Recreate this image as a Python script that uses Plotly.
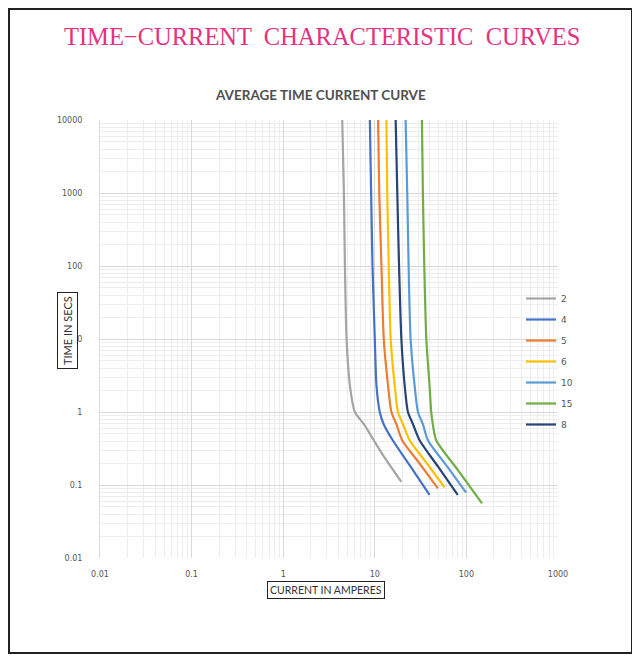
import plotly.graph_objects as go

# ---- data ----
series_names = ["2", "4", "5", "6", "10", "15", "8"]
series_colors = ["#A5A5A5", "#4472C4", "#ED7D31", "#FFC000", "#5B9BD5", "#70AD47", "#264478"]

time_2 = [10000, 1000, 100, 10, 2.3, 1.0, 0.68, 0.41, 0.244, 0.11]
amps_2 = [4.41, 4.60, 4.72, 4.92, 5.35, 6.06, 7.6, 9.75, 12.6, 19.5]

time_4 = [10000, 1000, 100, 10, 2.3, 1.0, 0.68, 0.41, 0.178, 0.073]
amps_4 = [8.83, 9.12, 9.44, 10.0, 10.43, 11.33, 12.5, 15.7, 24.6, 39.6]

time_5 = [10000, 1000, 100, 10, 2.3, 1.0, 0.68, 0.41, 0.194, 0.09]
amps_5 = [10.86, 11.19, 11.82, 12.53, 13.95, 15.19, 17.2, 19.9, 31.1, 48.8]

time_6 = [10000, 1000, 100, 10, 2.3, 1.0, 0.68, 0.41, 0.194, 0.093]
amps_6 = [13.4, 13.67, 14.2, 14.9, 16.5, 17.9, 20.3, 24.0, 37.5, 57.7]

time_10 = [10000, 1000, 100, 10, 2.3, 1.0, 0.68, 0.41, 0.178, 0.0785]
amps_10 = [21.7, 22.6, 23.4, 24.6, 27.2, 29.6, 33.5, 38.0, 61.9, 99.2]

time_15 = [10000, 1000, 100, 10, 2.3, 1.0, 0.68, 0.41, 0.16, 0.056]
amps_15 = [32.7, 33.5, 34.7, 36.5, 39.6, 41.3, 43.0, 46.8, 80.8, 148]

time_8 = [10000, 1000, 100, 10, 2.3, 1.0, 0.68, 0.41, 0.178, 0.073]
amps_8 = [16.9, 17.6, 18.4, 19.5, 21.2, 23.0, 26.1, 30.8, 49.1, 80.4]

series_times = [time_2, time_4, time_5, time_6, time_10, time_15, time_8]
series_amps = [amps_2, amps_4, amps_5, amps_6, amps_10, amps_15, amps_8]

x_tickvals = [0.01, 0.1, 1, 10, 100, 1000]
x_ticktext = ["0.01", "0.1", "1", "10", "100", "1000"]
y_tickvals = [0.01, 0.1, 1, 10, 100, 1000, 10000]
y_ticktext = ["0.01", "0.1", "1", "10", "100", "1000", "10000"]

fig = go.Figure()
for name, color, tt, aa in zip(series_names, series_colors, series_times, series_amps):
    fig.add_trace(go.Scatter(
        x=aa, y=tt, name=name, legendgroup=name, mode="lines",
        line=dict(color=color, width=2.2, shape="spline", smoothing=0.7),
    ))

# page offset of the browser body (default 8px margin)
OFF = 8
W, H = 640 - OFF, 657 - OFF
PL, PR, PT, PB = 100, 558, 120, 558          # plot area in screen px
L, R, T, B = PL - OFF, W - (PR - OFF), PT - OFF, H - (PB - OFF)
PW, PH = PR - PL, PB - PT


def px(sx):
    return (sx - PL) / PW


def py(sy):
    return (PB - sy) / PH


fig.update_layout(
    width=W, height=H,
    margin=dict(l=L, r=R, t=T, b=B),
    paper_bgcolor="white", plot_bgcolor="white",
    showlegend=True,
    legend=dict(
        x=px(521), y=py(284), xanchor="left", yanchor="top",
        bgcolor="rgba(0,0,0,0)", font=dict(size=9, color="#555555", family="DejaVu Sans"),
        itemwidth=30, tracegroupgap=2,
    ),
    font=dict(family="DejaVu Sans", color="#444444"),
)

fig.update_xaxes(
    type="log", range=[-2, 3],
    tickvals=x_tickvals, ticktext=x_ticktext,
    tickfont=dict(size=8, color="#555555"),
    showgrid=True, gridcolor="#D9D9D9", gridwidth=1,
    minor=dict(showgrid=True, gridcolor="#EDEDED", gridwidth=1, dtick="D1"),
    showline=False, zeroline=False, ticks="", ticklabelstandoff=10,
)
fig.update_yaxes(
    type="log", range=[-2, 4],
    tickvals=y_tickvals, ticktext=y_ticktext,
    tickfont=dict(size=8, color="#555555"),
    showgrid=True, gridcolor="#D9D9D9", gridwidth=1,
    minor=dict(showgrid=True, gridcolor="#EDEDED", gridwidth=1, dtick="D1"),
    showline=True, linecolor="#D9D9D9", linewidth=1,
    zeroline=False, ticks="", ticklabelstandoff=15,
)

# frame around the page
fig.add_shape(type="rect", xref="paper", yref="paper",
              x0=px(9), x1=px(632), y0=py(653), y1=py(9),
              line=dict(color="#222222", width=2))

# page title
fig.add_annotation(text="TIME\u2212CURRENT  CHARACTERISTIC  CURVES",
                   xref="paper", yref="paper", x=px(322), y=py(37),
                   showarrow=False, xanchor="center", yanchor="middle",
                   font=dict(family="Liberation Serif", size=24.5, color="#E5317E"))

# chart title
fig.add_annotation(text="<b>AVERAGE TIME CURRENT CURVE</b>",
                   xref="paper", yref="paper", x=px(320), y=py(95),
                   showarrow=False, xanchor="center", yanchor="middle",
                   font=dict(family="Lato", size=13.5, color="#505050"))

# axis titles in boxes
fig.add_annotation(text="CURRENT IN AMPERES",
                   xref="paper", yref="paper", x=px(326), y=py(590),
                   showarrow=False, xanchor="center", yanchor="middle",
                   bordercolor="#222222", borderwidth=1, borderpad=2, bgcolor="white",
                   font=dict(family="Lato", size=10.5, color="#333333"))
fig.add_annotation(text="TIME IN SECS", textangle=-90,
                   xref="paper", yref="paper", x=px(67), y=py(331),
                   showarrow=False, xanchor="center", yanchor="middle",
                   bordercolor="#222222", borderwidth=1, borderpad=3, bgcolor="white",
                   font=dict(family="Lato", size=11, color="#333333"))

fig.write_html("out.html")
